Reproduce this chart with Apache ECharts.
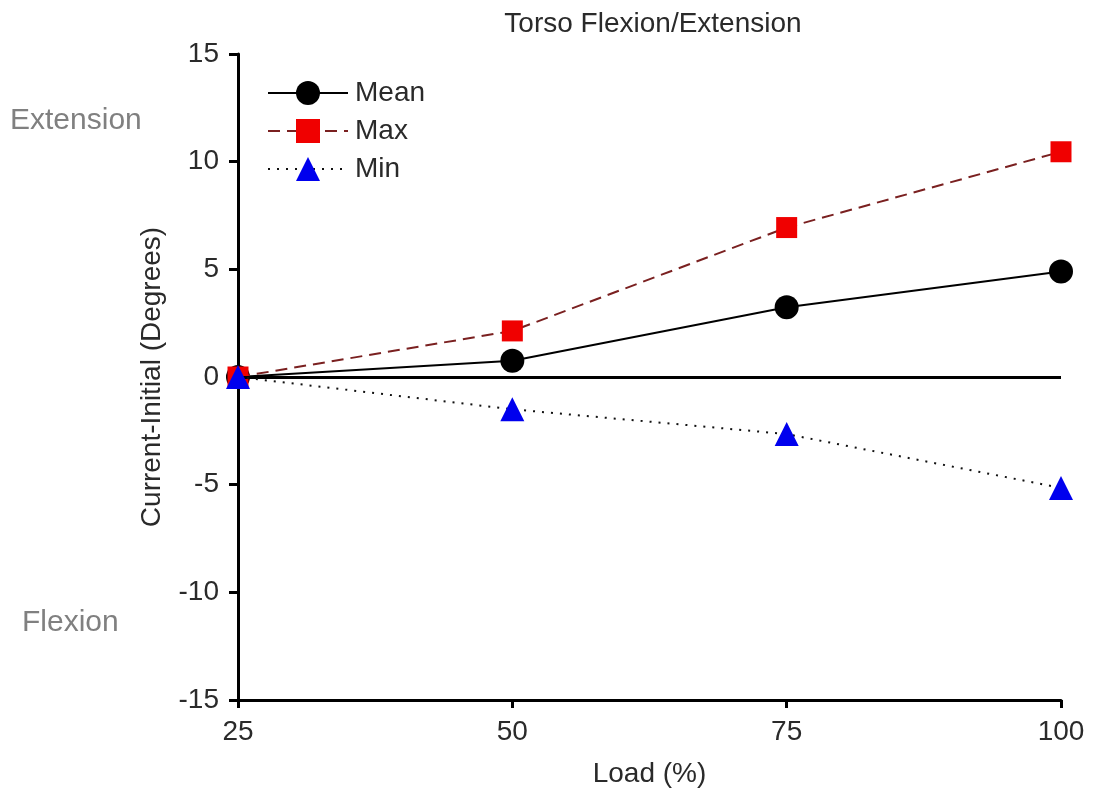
<!DOCTYPE html>
<html>
<head>
<meta charset="utf-8">
<title>Torso Flexion/Extension</title>
<script src="https://cdn.jsdelivr.net/npm/echarts@6/dist/echarts.min.js"></script>
<style>
  html, body { margin: 0; padding: 0; background: #ffffff; }
  #chart { width: 1094px; height: 793px; }
</style>
</head>
<body>
<div id="chart"></div>
<script>
// Load levels (%) and change in torso angle (current minus initial, degrees)
var loads = [25, 50, 75, 100];
var meanValues = [0, 0.75, 3.24, 4.9];
var maxValues = [0, 2.14, 6.94, 10.46];
var minValues = [0, -1.5, -2.65, -5.15];
var yTicks = [-15, -10, -5, 0, 5, 10, 15];

var FONT = '"Liberation Sans", Arial, sans-serif';
var TEXT = '#2a2a2a';

function pairs(values) {
  return loads.map(function (x, i) { return [x, values[i]]; });
}

var chart = echarts.init(document.getElementById('chart'), null, { renderer: 'canvas' });

chart.setOption({
  backgroundColor: '#ffffff',
  animation: false,
  title: {
    text: 'Torso Flexion/Extension',
    left: 648,
    textAlign: 'center',
    top: 5,
    textStyle: { fontFamily: FONT, fontSize: 28, fontWeight: 'normal', color: TEXT }
  },
  legend: {
    orient: 'vertical',
    left: 262,
    top: 74,
    itemWidth: 80,
    itemHeight: 30,
    itemGap: 10,
    data: ['Mean', 'Max', 'Min'],
    textStyle: { fontFamily: FONT, fontSize: 28, color: TEXT, padding: [0, 0, 0, 2] }
  },
  grid: { left: 238, right: 33, top: 54, bottom: 93 },
  xAxis: {
    type: 'value',
    min: 25,
    max: 100,
    interval: 25,
    name: 'Load (%)',
    nameLocation: 'middle',
    nameGap: 60,
    nameTextStyle: { fontFamily: FONT, fontSize: 28, color: TEXT },
    axisLine: { show: true, onZero: false, lineStyle: { color: '#000', width: 3 } },
    axisTick: { show: true, length: 8, lineStyle: { color: '#000', width: 3 } },
    axisLabel: { fontFamily: FONT, fontSize: 28, color: TEXT, margin: 18 },
    splitLine: { show: false }
  },
  yAxis: {
    type: 'value',
    min: yTicks[0],
    max: yTicks[yTicks.length - 1],
    interval: 5,
    name: 'Current-Initial (Degrees)',
    nameLocation: 'middle',
    nameGap: 72,
    nameTextStyle: { fontFamily: FONT, fontSize: 28, color: TEXT },
    axisLine: { show: true, onZero: false, lineStyle: { color: '#000', width: 3 } },
    axisTick: { show: true, length: 9, lineStyle: { color: '#000', width: 3 } },
    axisLabel: { fontFamily: FONT, fontSize: 28, color: TEXT, margin: 19 },
    splitLine: { show: false }
  },
  graphic: [
    {
      type: 'text', left: 10, top: 106,
      style: { text: 'Extension', fontFamily: FONT, fontSize: 30, fill: '#808080' }
    },
    {
      type: 'text', left: 22, top: 608,
      style: { text: 'Flexion', fontFamily: FONT, fontSize: 30, fill: '#808080' }
    }
  ],
  series: [
    {
      name: 'Mean',
      type: 'line',
      data: pairs(meanValues),
      symbol: 'circle',
      symbolSize: 24,
      itemStyle: { color: '#000000' },
      lineStyle: { color: '#000000', width: 2, type: 'solid' },
      markLine: {
        silent: true,
        symbol: 'none',
        label: { show: false },
        lineStyle: { color: '#000000', width: 3, type: 'solid' },
        data: [{ yAxis: 0 }]
      },
      z: 3
    },
    {
      name: 'Max',
      type: 'line',
      data: pairs(maxValues),
      symbol: 'rect',
      symbolSize: 21,
      itemStyle: { color: '#f00000' },
      lineStyle: { color: '#7a2020', width: 2, type: [12, 7] },
      z: 4
    },
    {
      name: 'Min',
      type: 'line',
      data: pairs(minValues),
      symbol: 'triangle',
      symbolSize: 24,
      itemStyle: { color: '#0000ee' },
      lineStyle: { color: '#111111', width: 2, type: [2, 7] },
      z: 5
    }
  ]
});
</script>
</body>
</html>
